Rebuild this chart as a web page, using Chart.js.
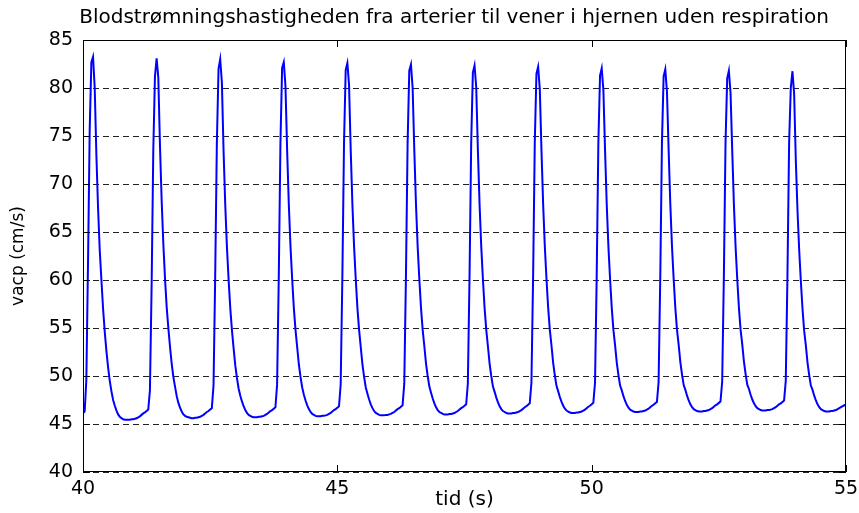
<!DOCTYPE html>
<html>
<head>
<meta charset="utf-8">
<title>Blodstrømningshastighed</title>
<script src="https://cdn.jsdelivr.net/npm/chart.js@4.4.1/dist/chart.umd.min.js"></script>
<style>
  html, body { margin: 0; padding: 0; background: #fff; }
  #wrap { position: relative; width: 859px; height: 513px; }
</style>
</head>
<body>
<div id="wrap"><canvas id="flowChart"></canvas></div>
<script>
// vacp (cm/s), one heartbeat per row, 38 samples per beat, t = 40..55 s
const dt = 15 / 456;
const vacp = [
  46.15, 46.3, 49.6, 61.8, 75.6, 82.7, 83.25, 80.0, 73.0, 67.5, 63.1, 60.0, 57.0, 54.6, 52.6, 50.9, 49.5, 48.4, 47.5, 46.9, 46.4, 46.0, 45.75, 45.6, 45.5, 45.45, 45.45, 45.45, 45.45, 45.5, 45.5, 45.55, 45.6, 45.7, 45.8, 45.95, 46.1, 46.2,
  46.35, 46.5, 48.5, 59.3, 73.4, 81.2, 83.1, 81.1, 74.0, 68.3, 63.8, 60.2, 57.2, 55.0, 53.05, 51.3, 49.9, 48.9, 47.9, 47.2, 46.7, 46.3, 46.0, 45.85, 45.75, 45.7, 45.65, 45.6, 45.6, 45.65, 45.65, 45.7, 45.75, 45.85, 45.95, 46.1, 46.25, 46.35,
  46.5, 46.65, 49.0, 60.3, 74.3, 82.0, 83.0, 80.6, 73.5, 67.9, 63.5, 60.1, 57.1, 54.8, 52.9, 51.1, 49.8, 48.7, 47.95, 47.35, 46.85, 46.45, 46.15, 45.95, 45.85, 45.75, 45.7, 45.7, 45.7, 45.75, 45.75, 45.8, 45.85, 45.95, 46.05, 46.2, 46.35, 46.45,
  46.6, 46.75, 49.1, 60.3, 74.3, 82.1, 82.7, 80.2, 73.5, 67.9, 63.5, 60.1, 57.1, 54.8, 53.0, 51.2, 49.9, 48.8, 48.05, 47.45, 46.95, 46.55, 46.25, 46.05, 45.95, 45.85, 45.8, 45.8, 45.8, 45.85, 45.85, 45.9, 45.95, 46.05, 46.15, 46.3, 46.45, 46.55,
  46.7, 46.85, 49.1, 60.3, 74.3, 81.9, 82.6, 80.3, 73.5, 67.9, 63.5, 60.1, 57.1, 54.8, 53.0, 51.2, 49.9, 48.8, 48.15, 47.55, 47.05, 46.65, 46.35, 46.15, 46.05, 45.95, 45.9, 45.9, 45.9, 45.95, 45.95, 46.0, 46.05, 46.15, 46.25, 46.4, 46.55, 46.65,
  46.8, 46.95, 49.2, 60.3, 74.3, 81.8, 82.45, 80.0, 73.5, 67.9, 63.5, 60.1, 57.1, 54.8, 53.1, 51.3, 50.0, 48.9, 48.25, 47.65, 47.15, 46.75, 46.45, 46.25, 46.15, 46.05, 46.0, 46.0, 46.0, 46.05, 46.05, 46.1, 46.15, 46.25, 46.35, 46.5, 46.65, 46.75,
  46.9, 47.05, 49.2, 60.3, 74.3, 81.6, 82.35, 80.1, 73.5, 67.9, 63.5, 60.1, 57.1, 54.8, 53.1, 51.3, 50.0, 48.9, 48.35, 47.75, 47.25, 46.85, 46.55, 46.35, 46.25, 46.15, 46.1, 46.1, 46.1, 46.15, 46.15, 46.2, 46.25, 46.35, 46.45, 46.6, 46.75, 46.85,
  47.0, 47.15, 49.3, 60.3, 74.3, 81.5, 82.2, 79.9, 73.5, 67.9, 63.5, 60.1, 57.1, 54.8, 53.15, 51.35, 50.05, 48.95, 48.4, 47.8, 47.3, 46.9, 46.6, 46.4, 46.3, 46.2, 46.15, 46.15, 46.15, 46.2, 46.2, 46.25, 46.3, 46.4, 46.5, 46.65, 46.8, 46.9,
  47.05, 47.2, 49.3, 60.3, 74.3, 81.3, 82.05, 79.8, 73.5, 67.9, 63.5, 60.1, 57.1, 54.8, 53.2, 51.4, 50.1, 49.0, 48.5, 47.9, 47.4, 47.0, 46.7, 46.5, 46.4, 46.3, 46.25, 46.25, 46.25, 46.3, 46.3, 46.35, 46.4, 46.5, 46.6, 46.75, 46.9, 47.0,
  47.15, 47.3, 49.35, 60.3, 74.3, 81.2, 81.95, 79.6, 73.5, 67.9, 63.5, 60.1, 57.1, 54.8, 53.25, 51.45, 50.15, 49.05, 48.55, 47.95, 47.45, 47.05, 46.75, 46.55, 46.45, 46.35, 46.3, 46.3, 46.3, 46.35, 46.35, 46.4, 46.45, 46.55, 46.65, 46.8, 46.95, 47.05,
  47.2, 47.35, 49.4, 60.3, 74.3, 81.0, 81.8, 79.5, 73.5, 67.9, 63.5, 60.1, 57.1, 54.8, 53.3, 51.5, 50.2, 49.1, 48.65, 48.05, 47.55, 47.15, 46.85, 46.65, 46.55, 46.45, 46.4, 46.4, 46.4, 46.45, 46.45, 46.5, 46.55, 46.65, 46.75, 46.9, 47.05, 47.15,
  47.3, 47.45, 49.5, 60.3, 74.3, 80.0, 81.75, 79.4, 72.5, 67.3, 63.2, 59.9, 57.0, 54.7, 53.2, 51.4, 50.1, 49.0, 48.55, 47.95, 47.45, 47.05, 46.75, 46.55, 46.45, 46.35, 46.3, 46.3, 46.3, 46.35, 46.35, 46.4, 46.45, 46.55, 46.65, 46.75, 46.85, 46.95,
  47.0
];
const tid = vacp.map((_, i) => 40 + i * dt);

const xTicks = [40, 45, 50, 55];
const yTicks = [40, 45, 50, 55, 60, 65, 70, 75, 80, 85];
const titleText = 'Blodstrømningshastigheden fra arterier til vener i hjernen uden respiration';
const FONT = 'DejaVu Sans';

// axes box with inward tick marks + title
const axesBox = {
  id: 'axesBox',
  afterDraw(chart) {
    const { ctx, chartArea: a, scales: { x, y } } = chart;
    ctx.save();
    ctx.strokeStyle = '#000';
    ctx.lineWidth = 1;
    ctx.setLineDash([]);
    ctx.strokeRect(a.left + 0.5, a.top + 0.5, a.right - a.left - 1, a.bottom - a.top - 1);
    ctx.beginPath();
    xTicks.forEach(v => {
      const px = Math.round(x.getPixelForValue(v)) + 0.5;
      ctx.moveTo(px, a.bottom); ctx.lineTo(px, a.bottom - 7);
      ctx.moveTo(px, a.top); ctx.lineTo(px, a.top + 7);
    });
    yTicks.forEach(v => {
      const py = Math.round(y.getPixelForValue(v)) + 0.5;
      ctx.moveTo(a.left, py); ctx.lineTo(a.left + 7, py);
      ctx.moveTo(a.right, py); ctx.lineTo(a.right - 7, py);
    });
    ctx.stroke();

    ctx.fillStyle = '#000';
    ctx.font = `20px "${FONT}"`;
    ctx.textAlign = 'center';
    ctx.textBaseline = 'alphabetic';
    ctx.fillText(titleText, 454, 23);
    ctx.restore();
  }
};

const ctx = document.getElementById('flowChart').getContext('2d');
new Chart(ctx, {
  type: 'line',
  data: {
    datasets: [{
      data: tid.map((t, i) => ({ x: t, y: vacp[i] })),
      borderColor: '#0000FF',
      borderWidth: 2,
      pointRadius: 0,
      tension: 0,
      fill: false
    }]
  },
  options: {
    responsive: true,
    maintainAspectRatio: false,
    animation: false,
    events: [],
    layout: { padding: { top: 40, right: 13, left: 0, bottom: 0 } },
    plugins: {
      legend: { display: false },
      tooltip: { enabled: false },
      title: { display: false }
    },
    scales: {
      x: {
        type: 'linear',
        min: 40,
        max: 55,
        afterFit: s => { s.height = 41; s.paddingLeft = 0; s.paddingRight = 0; },
        grid: { display: false, drawTicks: false },
        border: { display: false },
        ticks: {
          stepSize: 5,
          padding: 6,
          color: '#000',
          font: { family: FONT, size: 19 }
        },
        title: {
          display: true,
          text: 'tid (s)',
          color: '#000',
          font: { family: FONT, size: 20 },
          padding: { top: 0, bottom: 1 }
        }
      },
      y: {
        min: 40,
        max: 85,
        afterFit: s => { s.width = 83; s.paddingTop = 0; s.paddingBottom = 0; },
        grid: { color: '#222', lineWidth: 1, drawTicks: false },
        border: { display: false, dash: [6, 4] },
        ticks: {
          stepSize: 5,
          padding: 10,
          color: '#000',
          font: { family: FONT, size: 19 }
        },
        title: {
          display: true,
          text: 'vacp (cm/s)',
          color: '#000',
          font: { family: FONT, size: 17 },
          padding: { top: 8, bottom: 0 }
        }
      }
    }
  },
  plugins: [axesBox]
});
</script>
</body>
</html>
